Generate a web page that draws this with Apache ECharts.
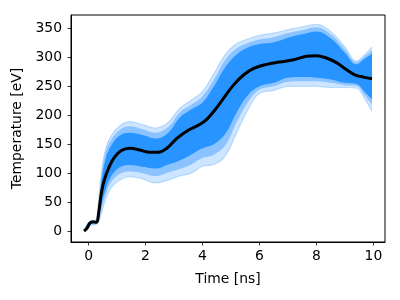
<!DOCTYPE html>
<html><head><meta charset="utf-8">
<script src="https://cdn.jsdelivr.net/npm/echarts@6/dist/echarts.min.js"></script>
<style>html,body{margin:0;padding:0;background:#fff}#c{width:400px;height:300px}</style>
</head><body><div id="c"></div>
<script>
// Mean (black) curve
const meanTime = [-0.16,-0.05,0.05,0.15,0.28,0.35,0.45,0.55,0.7,0.9,1.15,1.45,1.8,2.15,2.45,2.75,3.1,3.5,3.9,4.15,4.4,4.75,5.1,5.45,5.8,6.25,6.7,7.2,7.65,8.0,8.35,8.7,9.05,9.35,9.65,9.95];
const meanTemp = [0,5,14,16,15,30,66,88,108,127,139,143,140,136,136,143,160,174,184,193,207,230,253,270,281,288,292,296,302,303,299,291,279,270,266,263];

// Ensemble envelopes: outer faint edge, medium-density edge, dense core edge
const ensTime    = [-0.16,0.05,0.25,0.35,0.45,0.6,0.8,1.1,1.45,1.9,2.35,2.8,3.2,3.6,4.0,4.4,4.8,5.2,5.6,6.0,6.5,7.0,7.5,8.0,8.5,9.0,9.4,9.7,9.95];
const upperFaint = [1,17,19,50,100,142,165,182,189,184,178,188,212,226,241,272,305,324,332,338,342,348,353,357,345,318,294,305,318];
const upperMid   = [1,17,18,46,93,135,158,175,181,176,170,180,205,218,233,262,296,316,325,331,335,342,347,352,340,314,292,302,313];
const upperDense = [1,16,17,40,85,125,148,165,170,166,160,170,196,210,222,250,283,305,317,323,326,334,340,345,333,308,288,298,306];
const lowerDense = [0,12,13,22,45,72,95,110,114,111,108,115,122,132,143,150,168,205,235,250,256,265,266,265,262,256,254,240,228];
const lowerMid   = [0,11,12,19,37,63,85,99,103,100,95,101,107,115,126,132,148,188,223,244,250,258,259,259,256,252,251,234,218];
const lowerFaint = [-1,10,11,16,30,55,75,88,94,90,83,88,95,100,112,115,130,170,210,238,243,250,250,250,248,248,247,228,207];

const xTicks = [0,2,4,6,8,10];
const yTicks = [0,50,100,150,200,250,300,350];

function pairs(xs, ys){ return xs.map((x,i)=>[x, ys[i]]); }

const SM = 0.4;
const font = 'DejaVu Sans';
const FAINT = 'rgb(205,229,255)';
const MID = 'rgb(138,195,255)';
const DENSE = 'rgb(40,148,255)';
const EDGE = 'rgba(30,144,255,0.25)';

function band(ys, color, z){
  return {type:'line', data:pairs(ensTime, ys), smooth:SM, symbol:'none',
    lineStyle:{width:0, opacity:0}, areaStyle:{color:color, opacity:1, origin:'start'}, z:z, silent:true};
}

const chart = echarts.init(document.getElementById('c'), null, {renderer:'canvas'});
chart.setOption({
  animation:false,
  backgroundColor:'#fff',
  grid:{left:71, right:15, top:15, bottom:58, show:true, borderColor:'#000', borderWidth:1, backgroundColor:'transparent', z:20},
  xAxis:{
    type:'value', min:-0.616352, max:10.406356, z:20,
    name:'Time [ns]', nameLocation:'middle', nameGap:30,
    nameTextStyle:{fontFamily:font, fontSize:13.9, color:'#000'},
    axisLine:{show:true, onZero:false, lineStyle:{color:'#000', width:1}},
    axisTick:{show:true, length:3.5, lineStyle:{color:'#000', width:0.8}, customValues:xTicks},
    axisLabel:{fontFamily:font, fontSize:13.9, color:'#000', margin:7, customValues:xTicks},
    splitLine:{show:false}
  },
  yAxis:{
    type:'value', min:-19, max:373.3, z:20,
    name:'Temperature [eV]', nameLocation:'middle', nameGap:41,
    nameTextStyle:{fontFamily:font, fontSize:13.9, color:'#000'},
    axisLine:{show:true, onZero:false, lineStyle:{color:'#000', width:1}},
    axisTick:{show:true, length:3.5, lineStyle:{color:'#000', width:0.8}, customValues:yTicks},
    axisLabel:{fontFamily:font, fontSize:13.9, color:'#000', margin:9, customValues:yTicks},
    splitLine:{show:false}
  },
  series:[
    band(upperFaint, FAINT, 1),
    band(upperMid, MID, 2),
    band(upperDense, DENSE, 3),
    band(lowerDense, MID, 4),
    band(lowerMid, FAINT, 5),
    band(lowerFaint, '#ffffff', 6),
    {type:'line', data:pairs(ensTime, upperFaint), smooth:SM, symbol:'none', lineStyle:{color:EDGE, width:1.2}, z:7, silent:true},
    {type:'line', data:pairs(ensTime, lowerFaint), smooth:SM, symbol:'none', lineStyle:{color:EDGE, width:1.2}, z:7, silent:true},
    {type:'line', data:pairs(meanTime, meanTemp), smooth:0.4, symbol:'none', lineStyle:{color:'#000', width:3}, z:10, silent:true}
  ]
});
</script></body></html>
